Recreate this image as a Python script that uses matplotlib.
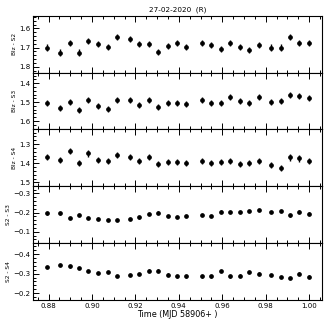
import numpy as np
import matplotlib
matplotlib.use('Agg')
import matplotlib.pyplot as plt
from matplotlib.ticker import MultipleLocator, AutoMinorLocator

# time of each frame (MJD - 58906)
t = [0.8794, 0.8854, 0.8897, 0.8941, 0.8984, 0.9029, 0.9072, 0.9115, 0.9173,
     0.9218, 0.9261, 0.9304, 0.9349, 0.9392, 0.9435, 0.9507, 0.9550, 0.9593,
     0.9637, 0.9680, 0.9723, 0.9768, 0.9825, 0.9869, 0.9912, 0.9955, 1.0000]

blz_s2 = [1.700, 1.726, 1.674, 1.726, 1.665, 1.683, 1.697, 1.647, 1.656,
          1.683, 1.683, 1.723, 1.692, 1.677, 1.695, 1.677, 1.688, 1.709,
          1.677, 1.695, 1.712, 1.688, 1.700, 1.700, 1.644, 1.677, 1.677]
blz_s3 = [1.505, 1.532, 1.502, 1.540, 1.491, 1.519, 1.537, 1.487, 1.491,
          1.514, 1.491, 1.524, 1.507, 1.505, 1.509, 1.487, 1.505, 1.505,
          1.475, 1.496, 1.505, 1.474, 1.502, 1.496, 1.461, 1.470, 1.479]
blz_s4 = [1.366, 1.384, 1.335, 1.398, 1.349, 1.381, 1.389, 1.358, 1.366,
          1.387, 1.366, 1.405, 1.395, 1.393, 1.398, 1.389, 1.398, 1.395,
          1.389, 1.403, 1.400, 1.387, 1.407, 1.423, 1.370, 1.375, 1.389]
s2_s3 = [-0.196, -0.196, -0.173, -0.187, -0.173, -0.165, -0.160, -0.160, -0.167,
         -0.175, -0.191, -0.200, -0.184, -0.176, -0.184, -0.187, -0.182, -0.205,
         -0.202, -0.202, -0.207, -0.213, -0.202, -0.207, -0.185, -0.205, -0.195]
s2_s4 = [-0.334, -0.344, -0.337, -0.327, -0.312, -0.303, -0.307, -0.288, -0.292,
         -0.298, -0.315, -0.315, -0.295, -0.286, -0.286, -0.286, -0.286, -0.312,
         -0.286, -0.290, -0.308, -0.300, -0.293, -0.283, -0.278, -0.300, -0.285]

err_blz = 0.016
err_col = [0.006] * 27

labels = ['Blz - S2', 'Blz - S3', 'Blz - S4', 'S2 - S3', 'S2 - S4']
series = [blz_s2, blz_s3, blz_s4, s2_s3, s2_s4]
errs = [err_blz, err_blz, err_blz, err_col, err_col]
ylims = [(1.83, 1.534), (1.644, 1.344), (1.52, 1.223), (-0.041, -0.338),
         (-0.166, -0.456)]

fig, axes = plt.subplots(5, 1, sharex=True, figsize=(3.27, 3.27), dpi=100)
fig.subplots_adjust(left=0.102, right=0.985, top=0.952, bottom=0.083,
                    hspace=0)

for ax, y, e, lab, yl in zip(axes, series, errs, labels, ylims):
    ax.errorbar(t, y, yerr=e, fmt='o', color='k', ms=2.4, elinewidth=1.0,
                capsize=0)
    ax.set_ylim(yl)
    ax.set_ylabel(lab, fontsize=4.2, labelpad=2)
    ax.yaxis.set_major_locator(MultipleLocator(0.1))
    ax.yaxis.set_minor_locator(AutoMinorLocator())
    ax.xaxis.set_major_locator(MultipleLocator(0.02))
    ax.xaxis.set_minor_locator(MultipleLocator(0.005))
    ax.tick_params(which='both', direction='in', top=True, labelsize=5,
                   width=0.7, pad=2)
    ax.tick_params(which='major', length=4)
    ax.tick_params(which='minor', length=2)
    for s in ax.spines.values():
        s.set_linewidth(0.8)

axes[-1].set_xlim(0.873, 1.006)
axes[-1].xaxis.set_major_formatter(plt.FormatStrFormatter('%.2f'))
axes[-1].set_xlabel('Time (MJD 58906+ )', fontsize=5.8, labelpad=1)
axes[0].set_title('27-02-2020  (R)', fontsize=5.2, pad=3)

plt.savefig('out.png', dpi=100)
